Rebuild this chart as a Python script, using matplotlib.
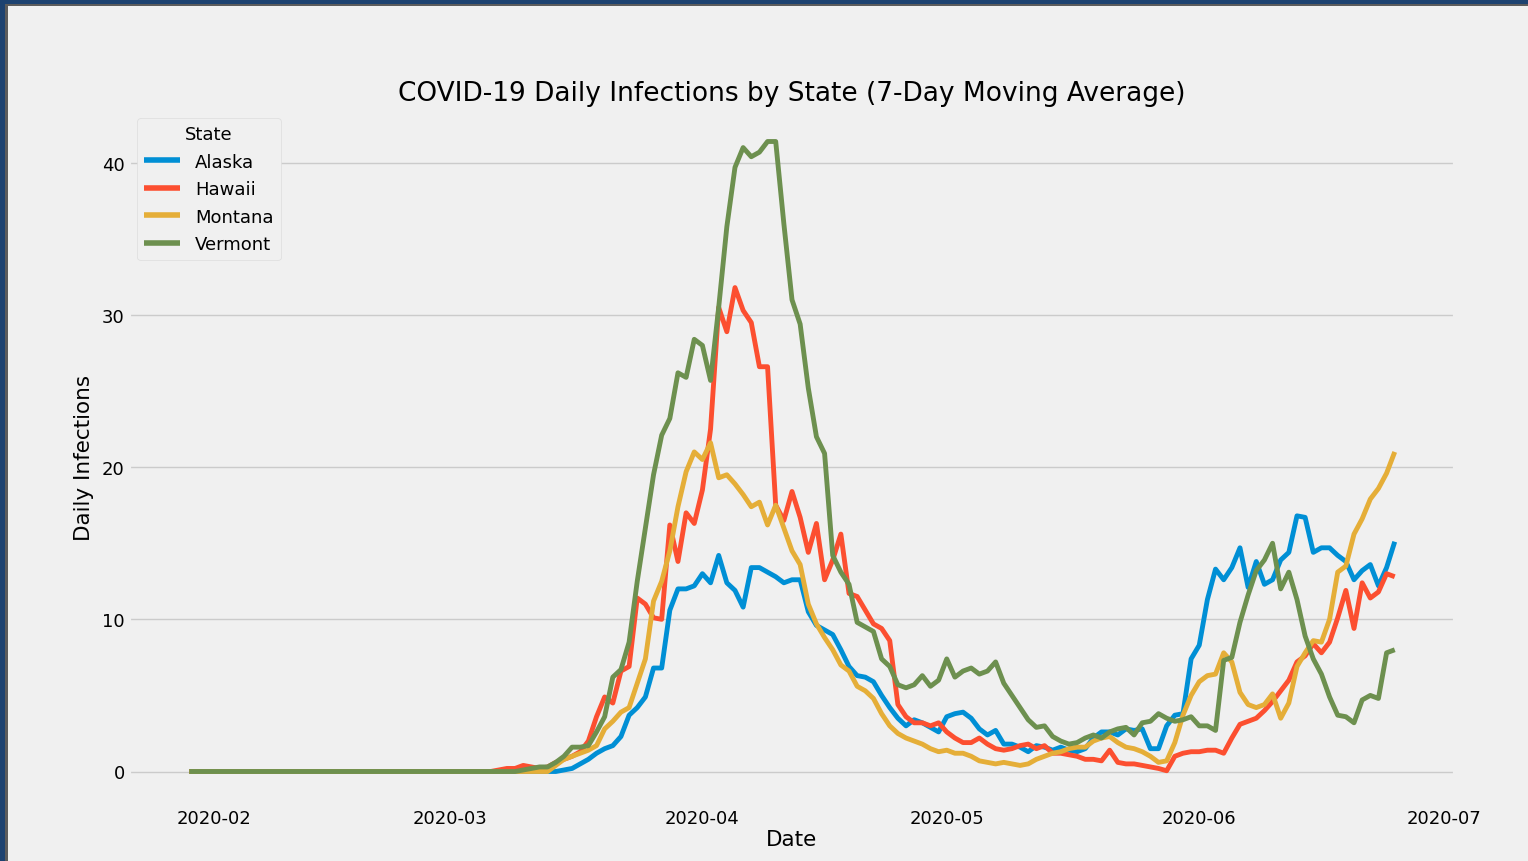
#!/usr/bin/env python3
"""
COVID-19 daily infections by state (7-day moving average), fivethirtyeight look.
"""

import numpy as np
import pandas as pd
import matplotlib
matplotlib.use('Agg')
import matplotlib.pyplot as plt
import matplotlib.dates as mdates
from matplotlib.patches import Rectangle

plt.style.use('fivethirtyeight')

# Data (one value per day)
dates = pd.date_range('2020-01-29', '2020-06-25', freq='D')

alaska = [
    0, 0, 0, 0, 0, 0, 0, 0, 0, 0,
    0, 0, 0, 0, 0, 0, 0, 0, 0, 0,
    0, 0, 0, 0, 0, 0, 0, 0, 0, 0,
    0, 0, 0, 0, 0, 0, 0, 0, 0, 0,
    0, 0, 0, 0, 0, 0,
    0.1, 0.2, 0.5, 0.8, 1.2, 1.5, 1.7, 2.3, 3.7, 4.2, 4.9,
    6.8, 6.8, 10.6, 12.0, 12.0, 12.2, 13.0, 12.4, 14.2, 12.4,
    11.9, 10.8, 13.4, 13.4, 13.1, 12.8, 12.4, 12.6, 12.6, 10.5,
    9.6, 9.3, 9.0, 8.0, 6.9, 6.3, 6.2, 5.9, 5.0, 4.2,
    3.5, 3.0, 3.4, 3.2, 2.9, 2.6, 3.6, 3.8, 3.9, 3.5,
    2.8, 2.4, 2.7, 1.8, 1.8, 1.6, 1.3, 1.7, 1.6, 1.4,
    1.6, 1.4, 1.3, 1.5, 2.2, 2.6, 2.6, 2.4, 2.8, 2.7,
    2.8, 1.5, 1.5, 3.0, 3.7, 3.8, 7.4, 8.3, 11.3, 13.3,
    12.6, 13.4, 14.7, 12.1, 13.8, 12.3, 12.6, 13.9, 14.4, 16.8,
    16.7, 14.4, 14.7, 14.7, 14.2, 13.8, 12.6, 13.2, 13.6, 12.2, 13.4, 15.1,
]

hawaii = [
    0, 0, 0, 0, 0, 0, 0, 0, 0, 0,
    0, 0, 0, 0, 0, 0, 0, 0, 0, 0,
    0, 0, 0, 0, 0, 0, 0, 0, 0, 0,
    0, 0, 0, 0, 0, 0, 0, 0, 0.1, 0.2,
    0.2, 0.4, 0.3, 0.2, 0.3, 0.6, 0.8, 1.0, 1.3,
    2.0, 3.6, 4.9, 4.5, 6.6, 6.9, 11.4, 11.0, 10.1, 10.0,
    16.2, 13.8, 17.0, 16.3, 18.5, 22.5, 30.5, 28.9, 31.8, 30.3,
    29.5, 26.6, 26.6, 17.5, 16.5, 18.4, 16.7, 14.4, 16.3, 12.6,
    13.9, 15.6, 11.7, 11.5, 10.6, 9.7, 9.4, 8.6, 4.4, 3.6,
    3.2, 3.2, 3.0, 3.2, 2.6, 2.2, 1.9, 1.9, 2.2, 1.8,
    1.5, 1.4, 1.5, 1.7, 1.8, 1.5, 1.7, 1.2, 1.2, 1.1,
    1.0, 0.8, 0.8, 0.7, 1.4, 0.6, 0.5, 0.5, 0.4, 0.3,
    0.2, 0.05, 1.0, 1.2, 1.3, 1.3, 1.4, 1.4, 1.2, 2.2,
    3.1, 3.3, 3.5, 4.0, 4.6, 5.3, 6.0, 7.2, 7.6, 8.4,
    7.8, 8.5, 10.1, 11.9, 9.4, 12.4, 11.4, 11.8, 13.0, 12.8,
]

montana = [
    0, 0, 0, 0, 0, 0, 0, 0, 0, 0,
    0, 0, 0, 0, 0, 0, 0, 0, 0, 0,
    0, 0, 0, 0, 0, 0, 0, 0, 0, 0,
    0, 0, 0, 0, 0, 0, 0, 0, 0, 0,
    0, 0, 0, 0, 0,
    0.4, 0.8, 1.0, 1.2,
    1.4, 1.7, 2.8, 3.3, 3.9, 4.2, 5.8, 7.4, 11.2, 12.5,
    14.5, 17.4, 19.7, 21.0, 20.5, 21.6, 19.3, 19.5, 18.9, 18.2,
    17.4, 17.7, 16.2, 17.5, 16.0, 14.5, 13.6, 11.0, 9.7, 8.8,
    8.0, 7.0, 6.6, 5.6, 5.3, 4.8, 3.8, 3.0, 2.5, 2.2,
    2.0, 1.8, 1.5, 1.3, 1.4, 1.2, 1.2, 1.0, 0.7, 0.6,
    0.5, 0.6, 0.5, 0.4, 0.5, 0.8, 1.0, 1.2, 1.3, 1.5,
    1.6, 1.6, 2.0, 2.2, 2.3, 1.9, 1.6, 1.5, 1.3, 1.0,
    0.6, 0.7, 1.9, 3.7, 5.0, 5.9, 6.3, 6.4, 7.8, 7.2,
    5.2, 4.4, 4.2, 4.4, 5.1, 3.5, 4.5, 6.9, 7.8, 8.6,
    8.5, 10.0, 13.1, 13.5, 15.6, 16.6, 17.9, 18.6, 19.6, 21.0,
]

vermont = [
    0, 0, 0, 0, 0, 0, 0, 0, 0, 0,
    0, 0, 0, 0, 0, 0, 0, 0, 0, 0,
    0, 0, 0, 0, 0, 0, 0, 0, 0, 0,
    0, 0, 0, 0, 0, 0, 0, 0, 0, 0,
    0,
    0.1, 0.2, 0.3, 0.3, 0.6, 1.0, 1.6, 1.6,
    1.7, 2.6, 3.6, 6.2, 6.7, 8.5, 12.5, 16.0, 19.5, 22.1,
    23.2, 26.2, 25.9, 28.4, 28.0, 25.7, 30.5, 35.8, 39.7, 41.0,
    40.4, 40.7, 41.4, 41.4, 36.0, 31.0, 29.4, 25.2, 22.0, 20.9,
    14.2, 13.1, 12.3, 9.8, 9.5, 9.2, 7.4, 6.9, 5.7, 5.5,
    5.7, 6.3, 5.6, 6.0, 7.4, 6.2, 6.6, 6.8, 6.4, 6.6,
    7.2, 5.8, 5.0, 4.2, 3.4, 2.9, 3.0, 2.3, 2.0, 1.8,
    1.9, 2.2, 2.4, 2.2, 2.6, 2.8, 2.9, 2.4, 3.2, 3.3,
    3.8, 3.5, 3.3, 3.4, 3.6, 3.0, 3.0, 2.7, 7.3, 7.5,
    9.8, 11.6, 13.2, 13.9, 15.0, 12.0, 13.1, 11.3, 8.9, 7.4,
    6.4, 4.9, 3.7, 3.6, 3.2, 4.7, 5.0, 4.8, 7.8, 8.0,
]

states = ['Alaska', 'Hawaii', 'Montana', 'Vermont']
series = [alaska, hawaii, montana, vermont]
colors = ['#008fd5', '#fc4f30', '#e5ae38', '#6d904f']

fig = plt.figure(figsize=(15.28, 8.62), dpi=100)
fig.patch.set_facecolor('#f0f0f0')
ax = fig.add_axes([129 / 1528, 1 - 804 / 862, (1455 - 129) / 1528, (804 - 111) / 862])
ax.set_facecolor('#f0f0f0')

for name, vals, c in zip(states, series, colors):
    ax.plot(dates, np.array(vals), color=c, lw=3.5, label=name)

ax.xaxis.set_major_locator(mdates.MonthLocator())
ax.xaxis.set_major_formatter(mdates.DateFormatter('%Y-%m'))
ax.set_yticks([0, 10, 20, 30, 40])
ax.grid(True, axis='y', color='#cbcbcb', lw=1)
ax.grid(False, axis='x')
ax.tick_params(axis='both', labelsize=13, length=0)
ax.tick_params(axis='x', pad=4)
ax.tick_params(axis='y', pad=3)

ax.set_title('COVID-19 Daily Infections by State (7-Day Moving Average)', fontsize=19, pad=7)
ax.set_xlabel('Date', fontsize=15.5, labelpad=2)
ax.set_ylabel('Daily Infections', fontsize=15.5, labelpad=6)

leg = ax.legend(title='State', loc='upper left', fontsize=13, title_fontsize=13,
                handlelength=2.0, labelspacing=0.52, frameon=True,
                bbox_to_anchor=(0.0, 1.0), borderaxespad=0.45)
leg.get_frame().set_facecolor('#f0f0f0')
leg.get_frame().set_edgecolor('#dcdcdc')
leg.get_frame().set_alpha(1.0)
for line in leg.get_lines():
    line.set_linewidth(4)

# screenshot frame on the top and left edges
fig.patches.append(Rectangle((0, 1 - 5 / 862), 1, 5 / 862, transform=fig.transFigure,
                             facecolor='#1d4270', edgecolor='none', zorder=10))
fig.patches.append(Rectangle((0, 0), 5 / 1528, 1, transform=fig.transFigure,
                             facecolor='#1d4270', edgecolor='none', zorder=10))
fig.patches.append(Rectangle((5 / 1528, 0), 3 / 1528, 1 - 5 / 862, transform=fig.transFigure,
                             facecolor='#5c5c5c', edgecolor='none', zorder=10))
fig.patches.append(Rectangle((5 / 1528, 1 - 7 / 862), 1, 2 / 862, transform=fig.transFigure,
                             facecolor='#5c5c5c', edgecolor='none', zorder=10))

fig.savefig('out.png', dpi=100, facecolor=fig.get_facecolor())
